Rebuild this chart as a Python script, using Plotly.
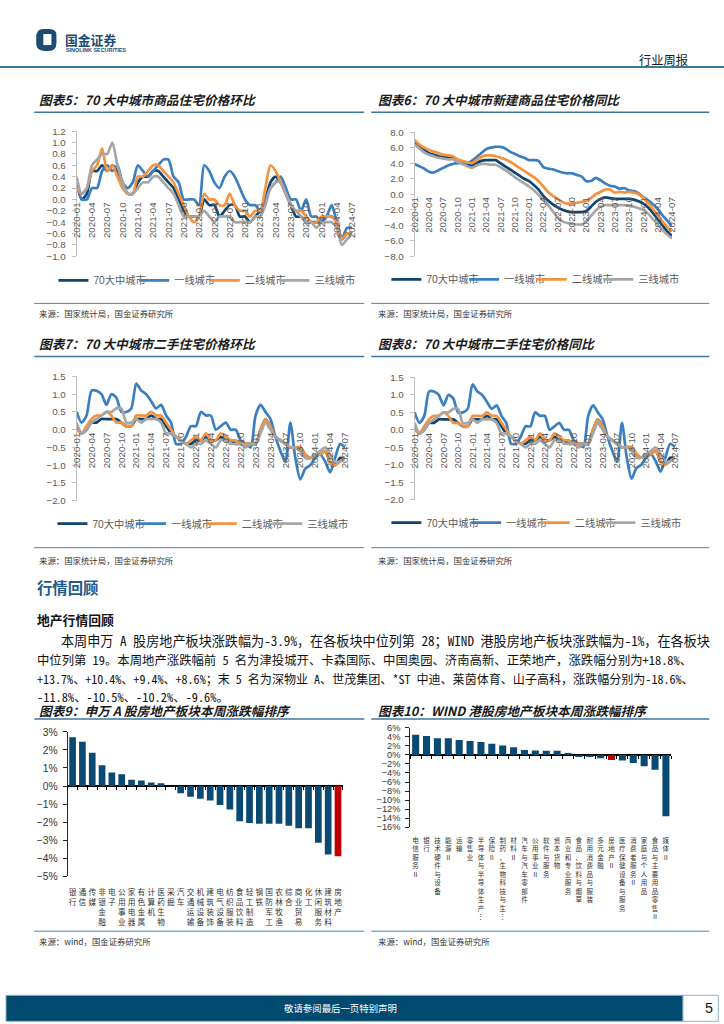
import plotly.graph_objects as go

PAGE_W, PAGE_H = 724, 1024
# measured photo transform (photo = A + B * page); positions are pre-compensated so marks land where intended
AX, BX, AY, BY = 9.0, 0.976, 7.0, 0.987
def xp(px): return ((px - AX) / BX) / PAGE_W
def yp(py): return 1 - ((py - AY) / BY) / PAGE_H
def fs(s): return s / BX

# ---------------- data ----------------
months = ["2020-01","2020-02","2020-03","2020-04","2020-05","2020-06","2020-07","2020-08","2020-09","2020-10","2020-11","2020-12",
          "2021-01","2021-02","2021-03","2021-04","2021-05","2021-06","2021-07","2021-08","2021-09","2021-10","2021-11","2021-12",
          "2022-01","2022-02","2022-03","2022-04","2022-05","2022-06","2022-07","2022-08","2022-09","2022-10","2022-11","2022-12",
          "2023-01","2023-02","2023-03","2023-04","2023-05","2023-06","2023-07","2023-08","2023-09","2023-10","2023-11","2023-12",
          "2024-01","2024-02","2024-03","2024-04","2024-05","2024-06","2024-07"]
tick_months = ["2020-01","2020-04","2020-07","2020-10","2021-01","2021-04","2021-07","2021-10","2022-01","2022-04",
               "2022-07","2022-10","2023-01","2023-04","2023-07","2023-10","2024-01","2024-04","2024-07"]
series_names = ["70大中城市", "一线城市", "二线城市", "三线城市"]

# 图表5 新建商品住宅价格环比
new_mom_70 = [0.3, 0.0, 0.1, 0.5, 0.5, 0.6, 0.5, 0.6, 0.5, 0.3, 0.1, 0.1,
              0.3, 0.4, 0.4, 0.5, 0.5, 0.4, 0.3, 0.2, 0.0, -0.2, -0.3, -0.3,
              -0.3, 0.0, -0.1, -0.1, -0.3, -0.2, -0.1, -0.1, -0.3, -0.3, -0.4, -0.3,
              -0.2, 0.0, 0.3, 0.4, 0.3, 0.1, -0.1, -0.3, -0.3, -0.4, -0.4, -0.4,
              -0.4, -0.3, -0.3, -0.4, -0.7, -0.6, -0.6]
new_mom_t1 = [0.3, 0.0, 0.0, 0.2, 0.2, 0.5, 0.6, 0.5, 0.6, 0.3, 0.2, 0.3,
              0.6, 0.5, 0.4, 0.5, 0.6, 0.7, 0.7, 0.4, 0.3, 0.0, 0.0, 0.0,
              -0.1, 0.6, 0.5, 0.3, 0.2, 0.4, 0.5, 0.4, 0.2, 0.0, -0.1, -0.1,
              -0.2, 0.0, 0.2, 0.3, 0.4, 0.2, 0.0, 0.0, -0.2, 0.0, -0.3, -0.3,
              -0.4, -0.3, -0.1, -0.4, -0.7, -0.5, -0.5]
new_mom_t2 = [0.2, 0.1, 0.2, 0.5, 0.6, 0.9, 0.5, 0.6, 0.4, 0.2, 0.1, 0.1,
              0.4, 0.4, 0.5, 0.6, 0.6, 0.5, 0.4, 0.3, 0.1, -0.1, -0.3, -0.4,
              -0.3, 0.1, 0.0, 0.0, -0.1, -0.1, 0.1, -0.1, -0.2, -0.2, -0.3, -0.2,
              -0.2, 0.2, 0.6, 0.5, 0.3, 0.1, -0.1, -0.2, -0.2, -0.3, -0.4, -0.4,
              -0.3, -0.3, -0.3, -0.4, -0.7, -0.6, -0.6]
new_mom_t3 = [0.4, 0.1, 0.2, 0.6, 0.7, 0.8, 0.8, 1.0, 0.6, 0.3, 0.1, 0.1,
              0.2, 0.3, 0.3, 0.4, 0.4, 0.3, 0.2, 0.1, -0.1, -0.3, -0.3, -0.3,
              -0.3, -0.2, -0.3, -0.4, -0.3, -0.3, -0.3, -0.4, -0.4, -0.4, -0.4, -0.3,
              -0.3, -0.1, 0.2, 0.3, 0.3, 0.1, -0.1, -0.2, -0.3, -0.4, -0.4, -0.5,
              -0.4, -0.4, -0.4, -0.5, -0.8, -0.7, -0.6]

# 图表6 新建商品住宅价格同比
new_yoy_70 = [6.6, 6.1, 5.7, 5.3, 5.1, 4.9, 4.8, 4.8, 4.7, 4.3, 4.0, 3.8,
              3.7, 4.0, 4.3, 4.4, 4.4, 4.4, 4.0, 3.6, 3.2, 2.8, 2.4, 2.0,
              1.7, 1.2, 0.6, -0.2, -0.8, -1.3, -1.7, -2.0, -2.2, -2.3, -2.3, -2.3,
              -2.2, -1.6, -1.0, -0.6, -0.4, -0.5, -0.6, -0.6, -0.6, -0.6, -0.7, -0.9,
              -1.2, -1.7, -2.4, -3.2, -4.0, -4.8, -5.4]
new_yoy_t1 = [3.9, 3.6, 3.3, 2.9, 2.8, 3.1, 3.4, 3.7, 3.9, 4.0, 4.0, 4.0,
              4.3, 4.8, 5.3, 5.8, 6.0, 6.1, 6.1, 5.9, 5.5, 5.2, 4.9, 4.7,
              4.4, 4.4, 4.3, 3.5, 3.3, 3.2, 3.0, 2.8, 2.7, 2.7, 2.5, 2.3,
              1.7, 1.7, 2.1, 1.8, 1.4, 1.1, 1.0, 0.7, 0.8, 0.5, 0.4, 0.1,
              -0.4, -0.8, -1.3, -1.9, -2.7, -3.4, -4.1]
new_yoy_t2 = [7.0, 6.4, 6.0, 5.7, 5.5, 5.3, 5.1, 5.0, 4.9, 4.5, 4.3, 4.1,
              4.0, 4.4, 4.8, 5.0, 5.0, 4.9, 4.7, 4.5, 4.2, 3.8, 3.4, 3.0,
              2.6, 2.2, 1.7, 1.0, 0.3, -0.2, -0.6, -1.0, -1.2, -1.2, -1.1, -1.0,
              -0.9, -0.5, 0.0, 0.3, 0.6, 0.6, 0.2, 0.3, 0.2, 0.3, 0.2, 0.0,
              -0.5, -1.1, -1.9, -2.7, -3.5, -4.2, -4.8]
new_yoy_t3 = [6.4, 5.9, 5.4, 5.1, 4.9, 4.7, 4.6, 4.5, 4.5, 4.2, 3.9, 3.6,
              3.4, 3.7, 3.9, 3.9, 3.8, 3.8, 3.5, 3.1, 2.7, 2.2, 1.8, 1.4,
              1.0, 0.5, -0.1, -0.7, -1.4, -2.2, -3.0, -3.5, -3.7, -3.8, -3.9, -3.9,
              -3.5, -2.8, -2.1, -1.6, -1.4, -1.4, -1.4, -1.4, -1.4, -1.5, -1.6, -1.8,
              -2.0, -2.5, -3.2, -3.9, -4.6, -5.2, -5.7]

# 图表7/8 二手住宅价格
sec_mom_70 = [0.1, -0.1, 0.0, 0.2, 0.2, 0.3, 0.3, 0.3, 0.3, 0.2, 0.1, 0.1,
              0.3, 0.3, 0.3, 0.4, 0.3, 0.3, 0.1, -0.1, -0.2, -0.3, -0.4, -0.4,
              -0.3, -0.3, -0.2, -0.3, -0.3, -0.2, -0.3, -0.3, -0.4, -0.4, -0.4, -0.4,
              -0.4, 0.0, 0.3, 0.1, -0.2, -0.3, -0.4, -0.5, -0.5, -0.5, -0.7, -0.8,
              -0.7, -0.7, -0.6, -0.9, -1.0, -0.8, -0.8]
sec_mom_t1 = [0.5, 0.2, 0.4, 1.1, 1.1, 1.0, 0.7, 1.0, 0.9, 0.5, 0.5, 0.6,
              1.3, 1.1, 1.0, 0.8, 0.6, 0.7, 0.4, 0.2, -0.4, -0.4, -0.2, 0.1,
              0.1, 0.5, 0.4, 0.4, 0.0, 0.1, 0.2, 0.0, 0.0, -0.3, -0.4, -0.5,
              0.4, 0.7, 0.5, 0.3, -0.2, -0.6, -0.9, 0.2, -0.8, -1.4, -1.1, -1.0,
              -0.8, -0.7, -0.9, -1.2, -0.8, -0.4, -0.5]
sec_mom_t2 = [0.0, -0.1, 0.1, 0.3, 0.4, 0.4, 0.5, 0.4, 0.2, 0.2, 0.1, 0.1,
              0.4, 0.4, 0.4, 0.5, 0.4, 0.4, 0.2, 0.0, -0.2, -0.3, -0.4, -0.3,
              -0.2, -0.3, -0.1, -0.3, -0.3, -0.1, -0.2, -0.3, -0.3, -0.4, -0.4, -0.4,
              -0.4, 0.0, 0.3, 0.1, -0.2, -0.3, -0.4, -0.5, -0.5, -0.5, -0.7, -0.8,
              -0.7, -0.7, -0.6, -0.9, -1.0, -0.9, -0.8]
sec_mom_t3 = [0.2, -0.1, 0.0, 0.2, 0.3, 0.4, 0.5, 0.5, 0.6, 0.6, 0.2, 0.2,
              0.3, 0.2, 0.3, 0.3, 0.3, 0.2, -0.1, -0.1, -0.2, -0.3, -0.4, -0.5,
              -0.4, -0.4, -0.3, -0.4, -0.5, -0.3, -0.3, -0.4, -0.4, -0.4, -0.5, -0.4,
              -0.4, -0.1, 0.2, 0.0, -0.2, -0.3, -0.4, -0.5, -0.5, -0.6, -0.8, -0.8,
              -0.7, -0.6, -0.5, -0.7, -0.9, -0.9, -0.8]

# 图表9 申万行业本周涨跌幅 (%)
sw_cats = ["银行","通信","传媒","非银金融","电子","公用事业","家用电器","有色金属","计算机","医药生物",
           "采掘","汽车","交通运输","机械设备","建筑装饰","电气设备","纺织服装","食品饮料","轻工制造","钢铁",
           "国防军工","农林牧渔","综合","商业贸易","化工","休闲服务","建筑材料","房地产"]
sw_vals = [2.7, 2.45, 1.85, 1.15, 0.75, 0.65, 0.35, 0.3, 0.2, 0.15,
           0.0, -0.4, -0.6, -0.7, -0.8, -1.05, -1.3, -1.95, -2.05, -2.1,
           -2.1, -2.1, -2.2, -2.35, -2.35, -3.15, -3.8, -3.9]

# 图表10 WIND港股行业本周涨跌幅 (%)
hk_cats = ["电信服务Ⅱ","银行","技术硬件与设备","能源Ⅱ","运输","零售业","半导体与半导体生产…","保险Ⅱ",
           "制药、生物科技与生…","材料Ⅱ","汽车与汽车零部件","公用事业Ⅱ","软件与服务","资本货物","商业和专业服务",
           "食品、饮料与烟草","耐用消费品与服装","多元金融","房地产Ⅱ","医疗保健设备与服务","消费者服务Ⅱ",
           "家庭与个人用品","食品与主要用品零售Ⅱ","媒体Ⅱ"]
hk_vals = [4.5, 4.2, 3.7, 3.7, 3.35, 3.1, 2.9, 2.5, 2.1, 1.7, 1.1, 1.0,
           0.95, 0.95, 0.45, -0.45, -0.45, -0.75, -1.1, -1.25, -1.8, -2.5, -3.3, -13.6]

# ---------------- styles ----------------
C70, C1, C2, C3 = "#10466d", "#3b7fc2", "#f5923e", "#a6a6a6"
BAR, RED = "#0a4a72", "#c00000"
LAT = "Liberation Sans, Noto Sans CJK SC"
CJK = "Noto Sans CJK SC"
GREY_TXT = "#595959"

fig = go.Figure()
layout = dict(width=PAGE_W, height=PAGE_H, margin=dict(l=0, r=0, t=0, b=0),
              paper_bgcolor="white", plot_bgcolor="rgba(0,0,0,0)",
              font=dict(family=LAT, color="#333333"))

def an(n): return "" if n == 1 else str(n)
leg_counter = [0]

def line_chart(n, data, x0, x1, ytop, ybot, ymin, ymax, dtick, leg_text_x, leg_y):
    for name, vals, col, tx in zip(series_names, data, [C70, C1, C2, C3], leg_text_x):
        leg_counter[0] += 1
        leg = "legend" + an(leg_counter[0])
        fig.add_trace(go.Scatter(x=months, y=vals, name=name, mode="lines",
                                 line=dict(color=col, width=2.7, shape="spline", smoothing=0.7),
                                 xaxis="x" + an(n), yaxis="y" + an(n), legend=leg, hoverinfo="skip"))
        layout[leg] = dict(orientation="h", x=xp(tx - 38), y=yp(leg_y), xanchor="left", yanchor="middle",
                           font=dict(size=fs(10), color=GREY_TXT, family=LAT), itemwidth=30,
                           bgcolor="rgba(0,0,0,0)", borderwidth=0, itemclick=False, itemdoubleclick=False)
    d0, d1 = yp(ybot), yp(ytop)
    zero = d0 + (0 - ymin) / (ymax - ymin) * (d1 - d0)
    layout["xaxis" + an(n)] = dict(domain=[xp(x0), xp(x1)], type="category", range=[0, len(months) - 1],
                                  anchor="free", position=zero, tickmode="array",
                                  tickvals=tick_months, ticktext=tick_months, tickangle=-90,
                                  tickfont=dict(size=fs(9.5), color=GREY_TXT, family=LAT),
                                  showgrid=False, zeroline=False, showline=False, ticks="")
    layout["yaxis" + an(n)] = dict(domain=[d0, d1], range=[ymin, ymax], anchor="x" + an(n),
                                  dtick=dtick, tick0=0, tickformat=".1f", showgrid=False, zeroline=False,
                                  showline=True, linecolor="#bfbfbf", linewidth=1, ticks="outside",
                                  ticklen=4, tickcolor="#bfbfbf", ticklabelstandoff=4,
                                  tickfont=dict(size=fs(9.5), color=GREY_TXT, family=LAT))

line_chart(1, [new_mom_70, new_mom_t1, new_mom_t2, new_mom_t3], 79, 352, 132, 257, -1.0, 1.2, 0.2, [94, 174, 244, 313], 281)
line_chart(2, [new_yoy_70, new_yoy_t1, new_yoy_t2, new_yoy_t3], 414, 669, 133, 257, -8.0, 8.0, 2.0, [424, 501, 568, 634], 280)
line_chart(3, [sec_mom_70, sec_mom_t1, sec_mom_t2, sec_mom_t3], 79, 345, 377, 501, -2.0, 1.5, 0.5, [93, 171, 241, 306], 524)
line_chart(4, [sec_mom_70, sec_mom_t1, sec_mom_t2, sec_mom_t3], 414, 672, 378, 500, -2.0, 1.5, 0.5, [424, 503, 571, 636], 523)

def vert(s): return "<br>".join(list(s.replace("…", "⋮")))

def bar_chart(n, nz, cats, vals, x0, x1, ytop, ybot, ymin, ymax, dtick, tfs, lfs, standoff, bw):
    cols = [RED if c.startswith("房地产") else BAR for c in cats]
    fig.add_trace(go.Bar(x=cats, y=vals, marker=dict(color=cols, line=dict(width=0)), width=bw,
                         xaxis="x" + an(n), yaxis="y" + an(n), showlegend=False, hoverinfo="skip"))
    fig.add_trace(go.Scatter(x=[], y=[], xaxis="x" + an(nz), yaxis="y" + an(n), showlegend=False, hoverinfo="skip"))
    d0, d1 = yp(ybot), yp(ytop)
    zero = d0 + (0 - ymin) / (ymax - ymin) * (d1 - d0)
    layout["xaxis" + an(n)] = dict(domain=[xp(x0), xp(x1)], type="category", range=[-0.5, len(cats) - 0.5],
                                  anchor="y" + an(n), tickmode="array", tickvals=cats,
                                  ticktext=[vert(c) for c in cats], tickangle=0,
                                  tickfont=dict(size=fs(lfs), color="#333333", family=CJK),
                                  ticks="", showline=False, showgrid=False, zeroline=False,
                                  ticklabelstandoff=standoff)
    layout["xaxis" + an(nz)] = dict(domain=[xp(x0), xp(x1)], overlaying="x" + an(n), range=[-0.5, len(cats) - 0.5],
                                   anchor="free", position=zero, tickmode="array",
                                   tickvals=[i - 0.5 for i in range(len(cats) + 1)], ticks="outside",
                                   ticklen=3, tickcolor="#000000", showticklabels=False,
                                   showline=False, showgrid=False, zeroline=False)
    layout["yaxis" + an(n)] = dict(domain=[d0, d1], range=[ymin, ymax], anchor="x" + an(n), dtick=dtick,
                                  ticksuffix="%", showgrid=False, zeroline=True, zerolinecolor="#000000",
                                  zerolinewidth=1.2, showline=True, linecolor="#262626", linewidth=1,
                                  ticks="outside", ticklen=4, tickcolor="#262626", ticklabelstandoff=3,
                                  tickfont=dict(size=fs(tfs), color="#333333", family=LAT))

bar_chart(5, 7, sw_cats, sw_vals, 70.1, 342.9, 732, 876, -5, 3, 1, 10, 7.5, 10, 0.68)
bar_chart(6, 8, hk_cats, hk_vals, 409.6, 668.4, 728, 827, -16, 6, 2, 9, 6.4, 8, 0.65)

# ---------------- page decoration ----------------
shapes = []
def hline(y, x0, x1, col, w):
    shapes.append(dict(type="line", xref="paper", yref="paper", x0=xp(x0), x1=xp(x1), y0=yp(y), y1=yp(y),
                       line=dict(color=col, width=w)))
hline(68, 0, 724, "#3d78a3", 2)
for y in [113, 357, 719]:
    hline(y, 37, 364, "#3d78a3", 1.5)
    hline(y, 371, 706, "#3d78a3", 1.5)
for y in [304, 548, 931]:
    hline(y, 37, 364, "#4f7fa8", 1)
    hline(y, 371, 706, "#4f7fa8", 1)
# logo
shapes.append(dict(type="path", xref="paper", yref="paper", fillcolor="#1b4c76", line=dict(width=0),
                   path="M %f %f Q %f %f %f %f L %f %f Q %f %f %f %f L %f %f Q %f %f %f %f L %f %f Q %f %f %f %f Z" % (
                       xp(46), yp(30), xp(39), yp(30), xp(39), yp(38),
                       xp(39), yp(45), xp(39), yp(52), xp(48), yp(52),
                       xp(51), yp(52), xp(59), yp(52), xp(59), yp(44),
                       xp(59), yp(36), xp(59), yp(30), xp(52), yp(30))))
shapes.append(dict(type="rect", xref="paper", yref="paper", x0=xp(46), x1=xp(54), y0=yp(46), y1=yp(35),
                   fillcolor="white", line=dict(width=0)))
# footer
shapes.append(dict(type="rect", xref="paper", yref="paper", x0=0, x1=xp(680), y0=yp(1021), y1=yp(995),
                   fillcolor="#004a6f", line=dict(color="#8fb4cf", width=1)))
shapes.append(dict(type="rect", xref="paper", yref="paper", x0=xp(680), x1=0.999, y0=yp(1021), y1=yp(995),
                   fillcolor="white", line=dict(color="#8fb4cf", width=1)))
layout["shapes"] = shapes

anns = []
def text(x, y, s, size, color="#1a1a1a", family=CJK, xanchor="left"):
    anns.append(dict(x=xp(x), y=yp(y), xref="paper", yref="paper", text=s, showarrow=False,
                     xanchor=xanchor, yanchor="middle", font=dict(size=fs(size), color=color, family=family)))

text(65, 40, "<b>国金证券</b>", 12.5, "#1b4c76")
text(66, 50.5, "<b>SINOLINK SECURITIES</b>", 5.3, "#1b4c76", "Liberation Sans")
text(687, 61, "行业周报", 12, "#1a1a1a", CJK, "right")

titles = [(40, 100, "图表5：70 大中城市商品住宅价格环比"), (376, 100, "图表6：70 大中城市新建商品住宅价格同比"),
          (40, 344, "图表7：70 大中城市二手住宅价格环比"), (376, 344, "图表8：70 大中城市二手住宅价格同比"),
          (40, 711, "图表9：申万 A 股房地产板块本周涨跌幅排序"), (376, 711, "图表10：WIND 港股房地产板块本周涨跌幅排序")]
for x, y, s in titles:
    text(x, y, "<b><i>" + s + "</i></b>", 12.4)

for x, y in [(40, 314), (376, 314), (40, 560), (376, 560)]:
    text(x, y, "来源：国家统计局，国金证券研究所", 8.2, "#333333")
for x in [40, 376]:
    text(x, 941, "来源：wind，国金证券研究所", 8.2, "#333333")

text(38, 587, "<b>行情回顾</b>", 15, "#1f5a8a")
text(38, 620, "<b>地产行情回顾</b>", 12.5, "#111111")
PARA_FONT = "Noto Sans Mono CJK SC, Noto Sans CJK SC"
para = [(62, 641, 12.8, "本周申万 A 股房地产板块涨跌幅为-3.9%，在各板块中位列第 28；WIND 港股房地产板块涨跌幅为-1%，在各板块"),
        (38, 660, 12.08, "中位列第 19。本周地产涨跌幅前 5 名为津投城开、卡森国际、中国奥园、济南高新、正荣地产，涨跌幅分别为+18.8%、"),
        (38, 679, 11.78, "+13.7%、+10.4%、+9.4%、+8.6%；末 5 名为深物业 A、世茂集团、*ST 中迪、莱茵体育、山子高科，涨跌幅分别为-18.6%、"),
        (38, 697, 12.1, "-11.8%、-10.5%、-10.2%、-9.6%。")]
for x, y, size, s in para:
    text(x, y, s, size, "#111111", PARA_FONT)

text(341, 1008, "敬请参阅最后一页特别声明", 9.2, "#ffffff", CJK, "center")
text(706, 1008, "5", 14, "#111111", "Liberation Sans", "center")
layout["annotations"] = anns

fig.update_layout(**layout)
fig.write_html("out.html", config={"displayModeBar": False, "staticPlot": True},
               post_script="document.body.style.margin='0';"
                           "document.documentElement.style.overflow='hidden';"
                           "document.body.style.overflow='hidden';")
